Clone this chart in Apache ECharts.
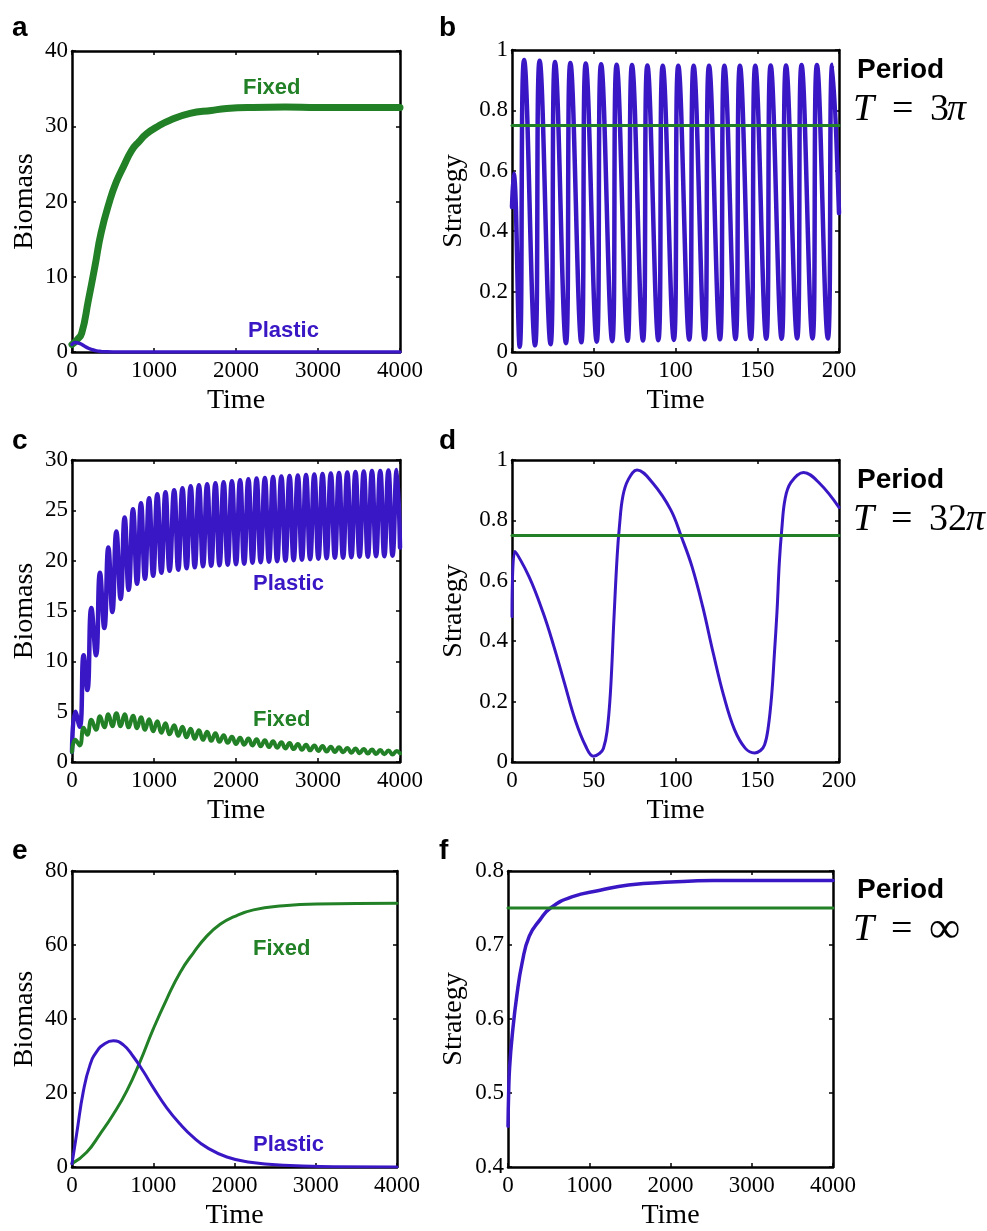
<!DOCTYPE html>
<html><head><meta charset="utf-8">
<script src="https://cdn.jsdelivr.net/npm/echarts@6/dist/echarts.min.js"></script>
<style>html,body{margin:0;padding:0;background:#fff}#c{width:987px;height:1231px}</style>
</head><body><div id="c"></div>
<script>
// ---------- Panel a ----------
const aFixedT = [0, 60, 118, 200, 280, 354, 463, 540, 626, 728, 820, 910, 1050, 1195, 1440, 1700, 1886, 2200, 2600, 3000, 3500, 4000];
const aFixedV = [1.0, 1.6, 2.5, 6.9, 11.4, 15.8, 20.2, 22.6, 24.6, 26.8, 28.0, 29.0, 30.0, 30.8, 31.7, 32.1, 32.35, 32.5, 32.55, 32.5, 32.5, 32.5];
const aPlasticT = [0, 40, 100, 150, 200, 250, 300, 350, 400, 500, 1000, 2000, 3000, 4000];
const aPlasticV = [1.0, 1.25, 1.1, 0.8, 0.5, 0.3, 0.15, 0.07, 0.03, 0, 0, 0, 0, 0];

// ---------- Panel b (period 3π) ----------
const bStartT = [0, 1.0];
const bStartV = [0.48, 0.59];
const bPeakT = [7.4, 16.9, 26.3, 35.7, 45.1, 54.5, 64.0, 73.4, 82.8, 92.2, 101.7, 111.1, 120.5, 129.9, 139.4, 148.8, 158.2, 167.6, 177.1, 186.5, 195.9];
const bPeakV = [0.967, 0.964, 0.960, 0.957, 0.955, 0.953, 0.951, 0.950, 0.949, 0.948, 0.948, 0.948, 0.948, 0.948, 0.948, 0.948, 0.949, 0.949, 0.950, 0.950, 0.951];
const bTroughT = [4.7, 14.1, 23.6, 33.0, 42.4, 51.8, 61.3, 70.7, 80.1, 89.5, 99.0, 108.4, 117.8, 127.2, 136.7, 146.1, 155.5, 164.9, 174.4, 183.8, 193.2];
const bTroughV = [0.017, 0.022, 0.026, 0.029, 0.032, 0.034, 0.036, 0.037, 0.038, 0.039, 0.040, 0.041, 0.042, 0.042, 0.043, 0.043, 0.044, 0.044, 0.045, 0.045, 0.045];
const bEndT = [200];
const bEndV = [0.46];
const fixedStrategyT200 = [0, 200];
const fixedStrategyV = [0.75, 0.75];

// ---------- Panel c ----------
const cPeakT = [40, 142, 236, 341, 443, 541, 642, 744, 841, 940, 1040, 1140, 1246, 1347, 1447, 1548, 1648, 1749, 1849, 1950, 2050, 2151, 2251, 2352, 2452, 2553, 2653, 2754, 2854, 2955, 3055, 3156, 3256, 3357, 3457, 3558, 3658, 3759, 3859, 3960];
const cTroughT = [94, 187, 293, 394, 492, 593, 691, 793, 890, 990, 1090, 1190, 1296, 1397, 1497, 1598, 1698, 1799, 1899, 2000, 2100, 2201, 2301, 2402, 2502, 2603, 2703, 2804, 2904, 3005, 3105, 3206, 3306, 3407, 3507, 3608, 3708, 3809, 3909];
const cPlasticPeakV = [5.0, 10.6, 15.3, 18.8, 21.3, 22.9, 24.3, 25.1, 25.7, 26.2, 26.6, 26.8, 27.0, 27.2, 27.4, 27.5, 27.6, 27.7, 27.8, 27.9, 28.0, 28.1, 28.15, 28.2, 28.3, 28.35, 28.4, 28.45, 28.5, 28.55, 28.6, 28.65, 28.7, 28.75, 28.8, 28.85, 28.9, 28.9, 28.95, 29.0];
const cPlasticTroughV = [3.5, 7.15, 10.6, 13.3, 14.9, 16.2, 17.1, 17.7, 18.2, 18.5, 18.8, 19.0, 19.1, 19.25, 19.35, 19.45, 19.5, 19.55, 19.6, 19.65, 19.7, 19.8, 19.85, 19.9, 19.95, 20.0, 20.05, 20.1, 20.15, 20.2, 20.25, 20.3, 20.3, 20.35, 20.4, 20.4, 20.45, 20.45, 20.5];
const cPlasticEndT = [0, 4000];
const cPlasticEndV = [1.0, 21.3];
const cFixedPeakV = [2.2, 3.4, 4.2, 4.55, 4.75, 4.85, 4.75, 4.6, 4.45, 4.25, 4.05, 3.85, 3.65, 3.5, 3.3, 3.15, 3.0, 2.85, 2.65, 2.5, 2.42, 2.33, 2.25, 2.15, 2.05, 1.95, 1.88, 1.8, 1.72, 1.65, 1.58, 1.52, 1.46, 1.4, 1.35, 1.3, 1.25, 1.2, 1.15, 1.1];
const cFixedTroughV = [1.65, 2.7, 3.2, 3.45, 3.55, 3.55, 3.45, 3.35, 3.2, 3.05, 2.9, 2.75, 2.6, 2.45, 2.3, 2.2, 2.1, 2.0, 1.9, 1.8, 1.72, 1.64, 1.56, 1.48, 1.42, 1.35, 1.28, 1.22, 1.16, 1.1, 1.05, 1.0, 0.96, 0.92, 0.88, 0.84, 0.8, 0.77, 0.74];
const cFixedEndT = [0, 4000];
const cFixedEndV = [1.0, 0.85];

// ---------- Panel d (period 32π) ----------
const dT = [0, 1.7, 10.4, 19.1, 25.6, 32.1, 38.6, 45.1, 49.8, 53.5, 55.9, 58.1, 60.2, 62.4, 64.3, 65.7, 67.8, 71.1, 76.5, 86.2, 97.1, 103.6, 110.1, 116.6, 123.1, 129.6, 136.1, 142.6, 148.4, 152.0, 154.5, 156.6, 158.8, 160.5, 162.1, 163.5, 165.0, 167.0, 170.5, 178.3, 188.1, 200];
const dV = [0.482, 0.697, 0.614, 0.493, 0.383, 0.261, 0.14, 0.052, 0.019, 0.028, 0.045, 0.10, 0.23, 0.48, 0.68, 0.78, 0.88, 0.935, 0.967, 0.923, 0.835, 0.746, 0.647, 0.515, 0.36, 0.217, 0.107, 0.046, 0.03, 0.038, 0.057, 0.11, 0.22, 0.36, 0.50, 0.66, 0.77, 0.87, 0.925, 0.959, 0.923, 0.843];

// ---------- Panel e ----------
const eFixedT = [0, 181, 345, 509, 673, 838, 1002, 1166, 1331, 1495, 1659, 1823, 1988, 2234, 2604, 3014, 4000];
const eFixedV = [0.9, 4.0, 8.9, 14.25, 20.5, 28.5, 37.4, 45.4, 52.6, 57.9, 62.4, 65.6, 67.6, 69.5, 70.6, 71.1, 71.3];
const ePlasticT = [0, 57, 140, 222, 304, 407, 509, 632, 756, 879, 1002, 1166, 1331, 1495, 1659, 1906, 2193, 2604, 3220, 4000];
const ePlasticV = [0.9, 8.9, 20.5, 27.6, 31.2, 33.4, 34.1, 33.0, 29.8, 25.8, 21.4, 16.0, 11.6, 8.0, 5.3, 2.7, 1.3, 0.45, 0.1, 0];

// ---------- Panel f ----------
const fT = [0, 8, 20, 52, 109, 174, 262, 393, 523, 785, 1134, 1483, 2006, 2530, 3000, 4000];
const fV = [0.455, 0.50, 0.535, 0.578, 0.632, 0.676, 0.712, 0.734, 0.750, 0.765, 0.774, 0.781, 0.785, 0.787, 0.787, 0.787];
const fixedStrategyT4000 = [0, 4000];

// ---------- Tick settings ----------
const timeLong = [0, 4000, 1000];
const timeShort = [0, 200, 50];
const yA = [0, 40, 10], yB = [0, 1, 0.2], yC = [0, 30, 5], yE = [0, 80, 20], yF = [0.4, 0.8, 0.1];

// ---------- helpers ----------
function zip(t, v) { return t.map((x, i) => [x, v[i]]); }
function merged() {
  let out = [];
  for (let i = 0; i < arguments.length; i += 2) out = out.concat(zip(arguments[i], arguments[i + 1]));
  return out.sort((p, q) => p[0] - q[0]);
}

const PURPLE = '#3a17c5';
const GREEN = '#228026';
const SERIF = 'Liberation Serif';

const panels = [
  { g: { left: 72, top: 51, width: 328, height: 301 }, x: timeLong, y: yA, yName: 'Biomass', yGap: 33 },
  { g: { left: 512, top: 50, width: 327, height: 302 }, x: timeShort, y: yB, yName: 'Strategy', yGap: 44 },
  { g: { left: 72, top: 460, width: 328, height: 302 }, x: timeLong, y: yC, yName: 'Biomass', yGap: 33 },
  { g: { left: 512, top: 460, width: 327, height: 302 }, x: timeShort, y: yB, yName: 'Strategy', yGap: 44 },
  { g: { left: 72, top: 871, width: 325, height: 299 }, x: timeLong, y: yE, yName: 'Biomass', yGap: 33 },
  { g: { left: 508, top: 871, width: 325, height: 299 }, x: timeLong, y: yF, yName: 'Strategy', yGap: 40 }
];

const grids = [], xAxes = [], yAxes = [];
const lineAx = { show: true, onZero: false, lineStyle: { color: '#000', width: 2.5 } };
const tickAx = { show: true, inside: true, length: 4, lineStyle: { color: '#000', width: 1.5 } };
const plain = v => String(Math.round(v * 1000) / 1000);
panels.forEach((p, i) => {
  grids.push(Object.assign({ containLabel: false }, p.g));
  xAxes.push({
    type: 'value', gridIndex: i, position: 'bottom', min: p.x[0], max: p.x[1], interval: p.x[2],
    axisLine: lineAx, axisTick: tickAx, splitLine: { show: false },
    axisLabel: { color: '#000', fontFamily: SERIF, fontSize: 23, margin: 7, formatter: plain, showMinLabel: true, showMaxLabel: true },
    name: 'Time', nameLocation: 'middle', nameGap: 35,
    nameTextStyle: { color: '#000', fontFamily: SERIF, fontSize: 28 }
  });
  xAxes.push({
    type: 'value', gridIndex: i, position: 'top', min: p.x[0], max: p.x[1], interval: p.x[2],
    axisLine: lineAx, axisTick: tickAx, splitLine: { show: false }, axisLabel: { show: false }
  });
  yAxes.push({
    type: 'value', gridIndex: i, position: 'left', min: p.y[0], max: p.y[1], interval: p.y[2],
    axisLine: lineAx, axisTick: tickAx, splitLine: { show: false },
    axisLabel: { color: '#000', fontFamily: SERIF, fontSize: 23, margin: 4, formatter: plain },
    name: p.yName, nameLocation: 'middle', nameGap: p.yGap,
    nameTextStyle: { color: '#000', fontFamily: SERIF, fontSize: 28 }
  });
  yAxes.push({
    type: 'value', gridIndex: i, position: 'right', min: p.y[0], max: p.y[1], interval: p.y[2],
    axisLine: lineAx, axisTick: tickAx, splitLine: { show: false }, axisLabel: { show: false }
  });
});

function line(panel, data, color, width, smooth) {
  return {
    type: 'line', xAxisIndex: panel * 2, yAxisIndex: panel * 2, data: data,
    showSymbol: false, symbol: 'none', smooth: smooth, silent: true,
    lineStyle: { color: color, width: width, cap: 'round', join: 'round' }
  };
}

const series = [
  line(0, zip(aFixedT, aFixedV), GREEN, 7, 0.5),
  line(0, zip(aPlasticT, aPlasticV), PURPLE, 3.5, 0.5),
  line(1, merged(bStartT, bStartV, bPeakT, bPeakV, bTroughT, bTroughV, bEndT, bEndV), PURPLE, 4.5, 0.5),
  line(1, zip(fixedStrategyT200, fixedStrategyV), GREEN, 3, false),
  line(2, merged(cPlasticEndT, cPlasticEndV, cPeakT, cPlasticPeakV, cTroughT, cPlasticTroughV), PURPLE, 4.5, 0.5),
  line(2, merged(cFixedEndT, cFixedEndV, cPeakT, cFixedPeakV, cTroughT, cFixedTroughV), GREEN, 4, 0.5),
  line(3, zip(dT, dV), PURPLE, 3, 0.4),
  line(3, zip(fixedStrategyT200, fixedStrategyV), GREEN, 3, false),
  line(4, zip(eFixedT, eFixedV), GREEN, 3, 0.5),
  line(4, zip(ePlasticT, ePlasticV), PURPLE, 3, 0.5),
  line(5, zip(fT, fV), PURPLE, 3.5, 0.5),
  line(5, zip(fixedStrategyT4000, fixedStrategyV), GREEN, 3, false)
];

function txt(x, y, text, font, color) {
  return { type: 'text', x: x, y: y, silent: true,
    style: { text: text, font: font, fill: color, verticalAlign: 'middle', align: 'left' } };
}
const letterFont = 'bold 28px "Liberation Sans"';
const lblFont = 'bold 22px "Liberation Sans"';
const periodFont = 'bold 28px "Liberation Sans"';
const mathIt = 'italic 38px "Liberation Serif"';
const mathUp = '38px "Liberation Serif"';

const graphic = [
  txt(12, 28, 'a', letterFont, '#000'),
  txt(439, 28, 'b', letterFont, '#000'),
  txt(12, 441, 'c', letterFont, '#000'),
  txt(439, 441, 'd', letterFont, '#000'),
  txt(12, 851, 'e', letterFont, '#000'),
  txt(439, 851, 'f', letterFont, '#000'),
  txt(243, 88, 'Fixed', lblFont, GREEN),
  txt(248, 331, 'Plastic', lblFont, PURPLE),
  txt(253, 584, 'Plastic', lblFont, PURPLE),
  txt(253, 720, 'Fixed', lblFont, GREEN),
  txt(253, 949, 'Fixed', lblFont, GREEN),
  txt(253, 1145, 'Plastic', lblFont, PURPLE),
  txt(857, 70, 'Period', periodFont, '#000'),
  txt(857, 480, 'Period', periodFont, '#000'),
  txt(857, 890, 'Period', periodFont, '#000'),
  // T = 3π
  txt(853, 110, 'T', mathIt, '#000'), txt(892, 110, '=', mathUp, '#000'),
  txt(930, 110, '3', mathUp, '#000'), txt(947, 110, 'π', mathIt, '#000'),
  // T = 32π
  txt(853, 520, 'T', mathIt, '#000'), txt(891, 520, '=', mathUp, '#000'),
  txt(929, 520, '32', mathUp, '#000'), txt(966, 520, 'π', mathIt, '#000'),
  // T = ∞
  txt(853, 930, 'T', mathIt, '#000'), txt(891, 930, '=', mathUp, '#000'),
  txt(929, 930, '∞', '44px "Liberation Serif"', '#000')
];

const chart = echarts.init(document.getElementById('c'), null, { renderer: 'canvas' });
chart.setOption({
  animation: false,
  backgroundColor: '#fff',
  grid: grids, xAxis: xAxes, yAxis: yAxes, series: series, graphic: graphic
});
</script></body></html>
